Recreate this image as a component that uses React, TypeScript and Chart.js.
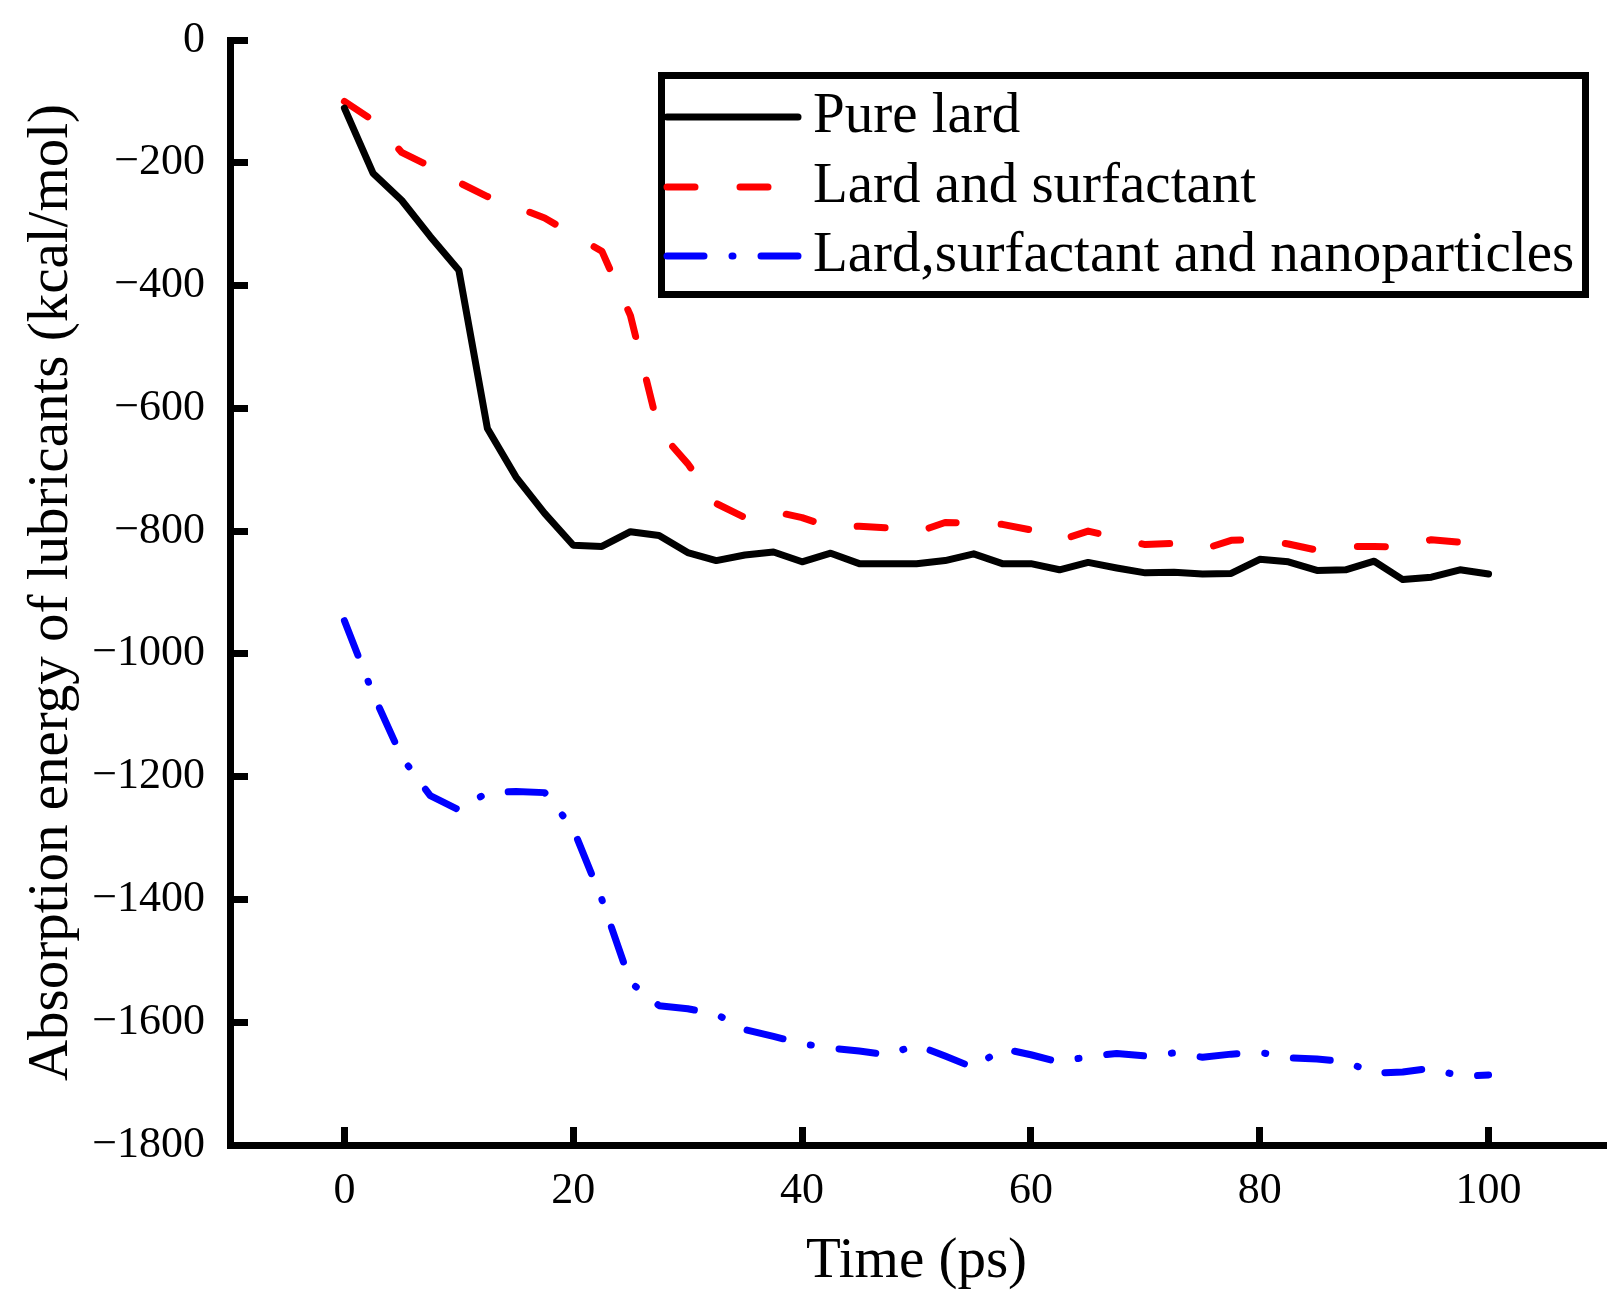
import { useEffect, useRef } from 'react';
import { Chart, registerables } from 'chart.js';

Chart.register(...registerables);

// Simulation time (ps)
const times = [
  0, 2.5, 5, 7.5, 10, 12.5, 15, 17.5, 20, 22.5, 25, 27.5, 30, 32.5, 35, 37.5, 40,
  42.5, 45, 47.5, 50, 52.5, 55, 57.5, 60, 62.5, 65, 67.5, 70, 72.5, 75, 77.5, 80,
  82.5, 85, 87.5, 90, 92.5, 95, 97.5, 100,
];

// Absorption energy (kcal/mol)
const pureLard = [
  -111, -217, -261, -320, -375, -633, -712, -771, -823, -825, -801, -807, -835, -848,
  -839, -834, -850, -836, -853, -853, -853, -848, -837, -853, -853, -863, -851, -860,
  -868, -867, -870, -869, -846, -850, -864, -863, -849, -879, -875, -863, -870,
];
const lardSurfactant = [
  -100, -131, -183, -206, -232, -255, -272, -290, -317, -344, -449, -637, -690, -755,
  -778, -768, -778, -794, -792, -795, -802, -786, -787, -789, -798, -815, -800, -811,
  -822, -820, -830, -815, -814, -821, -831, -825, -825, -826, -814, -818, -821,
];
const lardSurfNano = [
  -946, -1065, -1168, -1231, -1254, -1226, -1224, -1226, -1285, -1400, -1535, -1573,
  -1578, -1587, -1612, -1623, -1635, -1642, -1647, -1653, -1637, -1655, -1674, -1643,
  -1653, -1665, -1656, -1651, -1655, -1650, -1657, -1652, -1649, -1658, -1660, -1664,
  -1683, -1681, -1675, -1688, -1686,
];

const seriesLabels = ['Pure lard', 'Lard and surfactant', 'Lard,surfactant and nanoparticles'];
const xTicks = [0, 20, 40, 60, 80, 100];
const yTicks = [0, -200, -400, -600, -800, -1000, -1200, -1400, -1600, -1800];

const FONT = '"Liberation Serif", "Times New Roman", serif';

// boxed legend drawn inside the plot, like the original figure
const boxLegend = {
  id: 'boxLegend',
  afterDraw(chart: any) {
    const { ctx } = chart;
    const rows = [117, 187, 256];
    ctx.save();
    ctx.setLineDash([]);
    ctx.lineWidth = 7;
    ctx.strokeStyle = '#000';
    ctx.strokeRect(661.5, 75.5, 924, 219);
    chart.data.datasets.forEach((ds: any, i: number) => {
      const y = rows[i];
      ctx.beginPath();
      ctx.setLineDash(ds.borderDash || []);
      ctx.lineCap = ds.borderCapStyle || 'butt';
      ctx.lineWidth = ds.borderWidth;
      ctx.strokeStyle = ds.borderColor;
      ctx.moveTo(667, y);
      ctx.lineTo(798, y);
      ctx.stroke();
      ctx.setLineDash([]);
      ctx.fillStyle = '#000';
      ctx.font = `57px ${FONT}`;
      ctx.textBaseline = 'middle';
      ctx.textAlign = 'left';
      ctx.fillText(ds.label, 813, y);
    });
    ctx.restore();
  },
};

const fmt = (v: any) => (Number(v) < 0 ? '\u2212' + Math.abs(Number(v)) : String(v));

// keep the scales from adding their own label padding to the layout
const noPad = (axis: any) => {
  axis.paddingTop = 0;
  axis.paddingBottom = 0;
  axis.paddingLeft = 0;
  axis.paddingRight = 0;
};

export default function App() {
  const chartRef = useRef<HTMLCanvasElement>(null);
  const chartInstance = useRef<Chart | null>(null);

  useEffect(() => {
    if (!chartRef.current) return;
    if (chartInstance.current) chartInstance.current.destroy();

    const toPoints = (vals: number[]) => vals.map((y, i) => ({ x: times[i], y }));

    const axisGrid = {
      display: true,
      drawOnChartArea: false,
      drawTicks: true,
      tickLength: -18,
      tickWidth: 7,
      tickColor: '#000',
      color: '#000',
      lineWidth: 7,
    };

    chartInstance.current = new Chart(chartRef.current, {
      type: 'line',
      data: {
        datasets: [
          {
            label: seriesLabels[0],
            data: toPoints(pureLard),
            borderColor: '#000000',
            borderWidth: 7,
            borderJoinStyle: 'round',
            borderCapStyle: 'round',
            pointRadius: 0,
            tension: 0,
          },
          {
            label: seriesLabels[1],
            data: toPoints(lardSurfactant),
            borderColor: '#ff0000',
            borderWidth: 7,
            borderDash: [28, 45],
            borderJoinStyle: 'round',
            borderCapStyle: 'round',
            pointRadius: 0,
            tension: 0,
          },
          {
            label: seriesLabels[2],
            data: toPoints(lardSurfNano),
            borderColor: '#0000ff',
            borderWidth: 7,
            borderDash: [37, 28, 1, 28],
            borderJoinStyle: 'round',
            borderCapStyle: 'round',
            pointRadius: 0,
            tension: 0,
          },
        ],
      },
      options: {
        responsive: false,
        animation: false,
        layout: { padding: { top: 40, right: 18, left: 0, bottom: 0 } },
        plugins: {
          legend: { display: false },
          tooltip: { enabled: false },
        },
        scales: {
          x: {
            type: 'linear',
            min: -10,
            max: 110,
            afterBuildTicks: (axis: any) => {
              axis.ticks = xTicks.map((v) => ({ value: v }));
            },
            afterFit: (axis: any) => {
              axis.height = 167;
              noPad(axis);
            },
            border: { display: true, width: 7, color: '#000' },
            grid: axisGrid,
            ticks: {
              padding: 38,
              color: '#000',
              maxRotation: 0,
              autoSkip: false,
              font: { family: FONT, size: 44 },
              callback: fmt,
            },
            title: {
              display: true,
              text: 'Time (ps)',
              color: '#000',
              font: { family: FONT, size: 57 },
              padding: { top: 0, bottom: 16 },
            },
          },
          y: {
            type: 'linear',
            min: -1800,
            max: 0,
            afterBuildTicks: (axis: any) => {
              axis.ticks = yTicks.map((v) => ({ value: v }));
            },
            afterFit: (axis: any) => {
              axis.width = 230;
              noPad(axis);
            },
            border: { display: true, width: 7, color: '#000' },
            grid: axisGrid,
            ticks: {
              padding: 43,
              color: '#000',
              autoSkip: false,
              font: { family: FONT, size: 44 },
              callback: fmt,
            },
            title: {
              display: true,
              text: 'Absorption energy of lubricants (kcal/mol)',
              color: '#000',
              font: { family: FONT, size: 57 },
              padding: { top: 18, bottom: 0 },
            },
          },
        },
      } as any,
      plugins: [boxLegend],
    });

    return () => {
      if (chartInstance.current) {
        chartInstance.current.destroy();
        chartInstance.current = null;
      }
    };
  }, []);

  return (
    <div style={{ position: 'absolute', left: 0, top: 0, width: 1621, height: 1312, background: '#fff' }}>
      <canvas ref={chartRef} width={1621} height={1312} style={{ width: 1621, height: 1312 }} />
    </div>
  );
}
